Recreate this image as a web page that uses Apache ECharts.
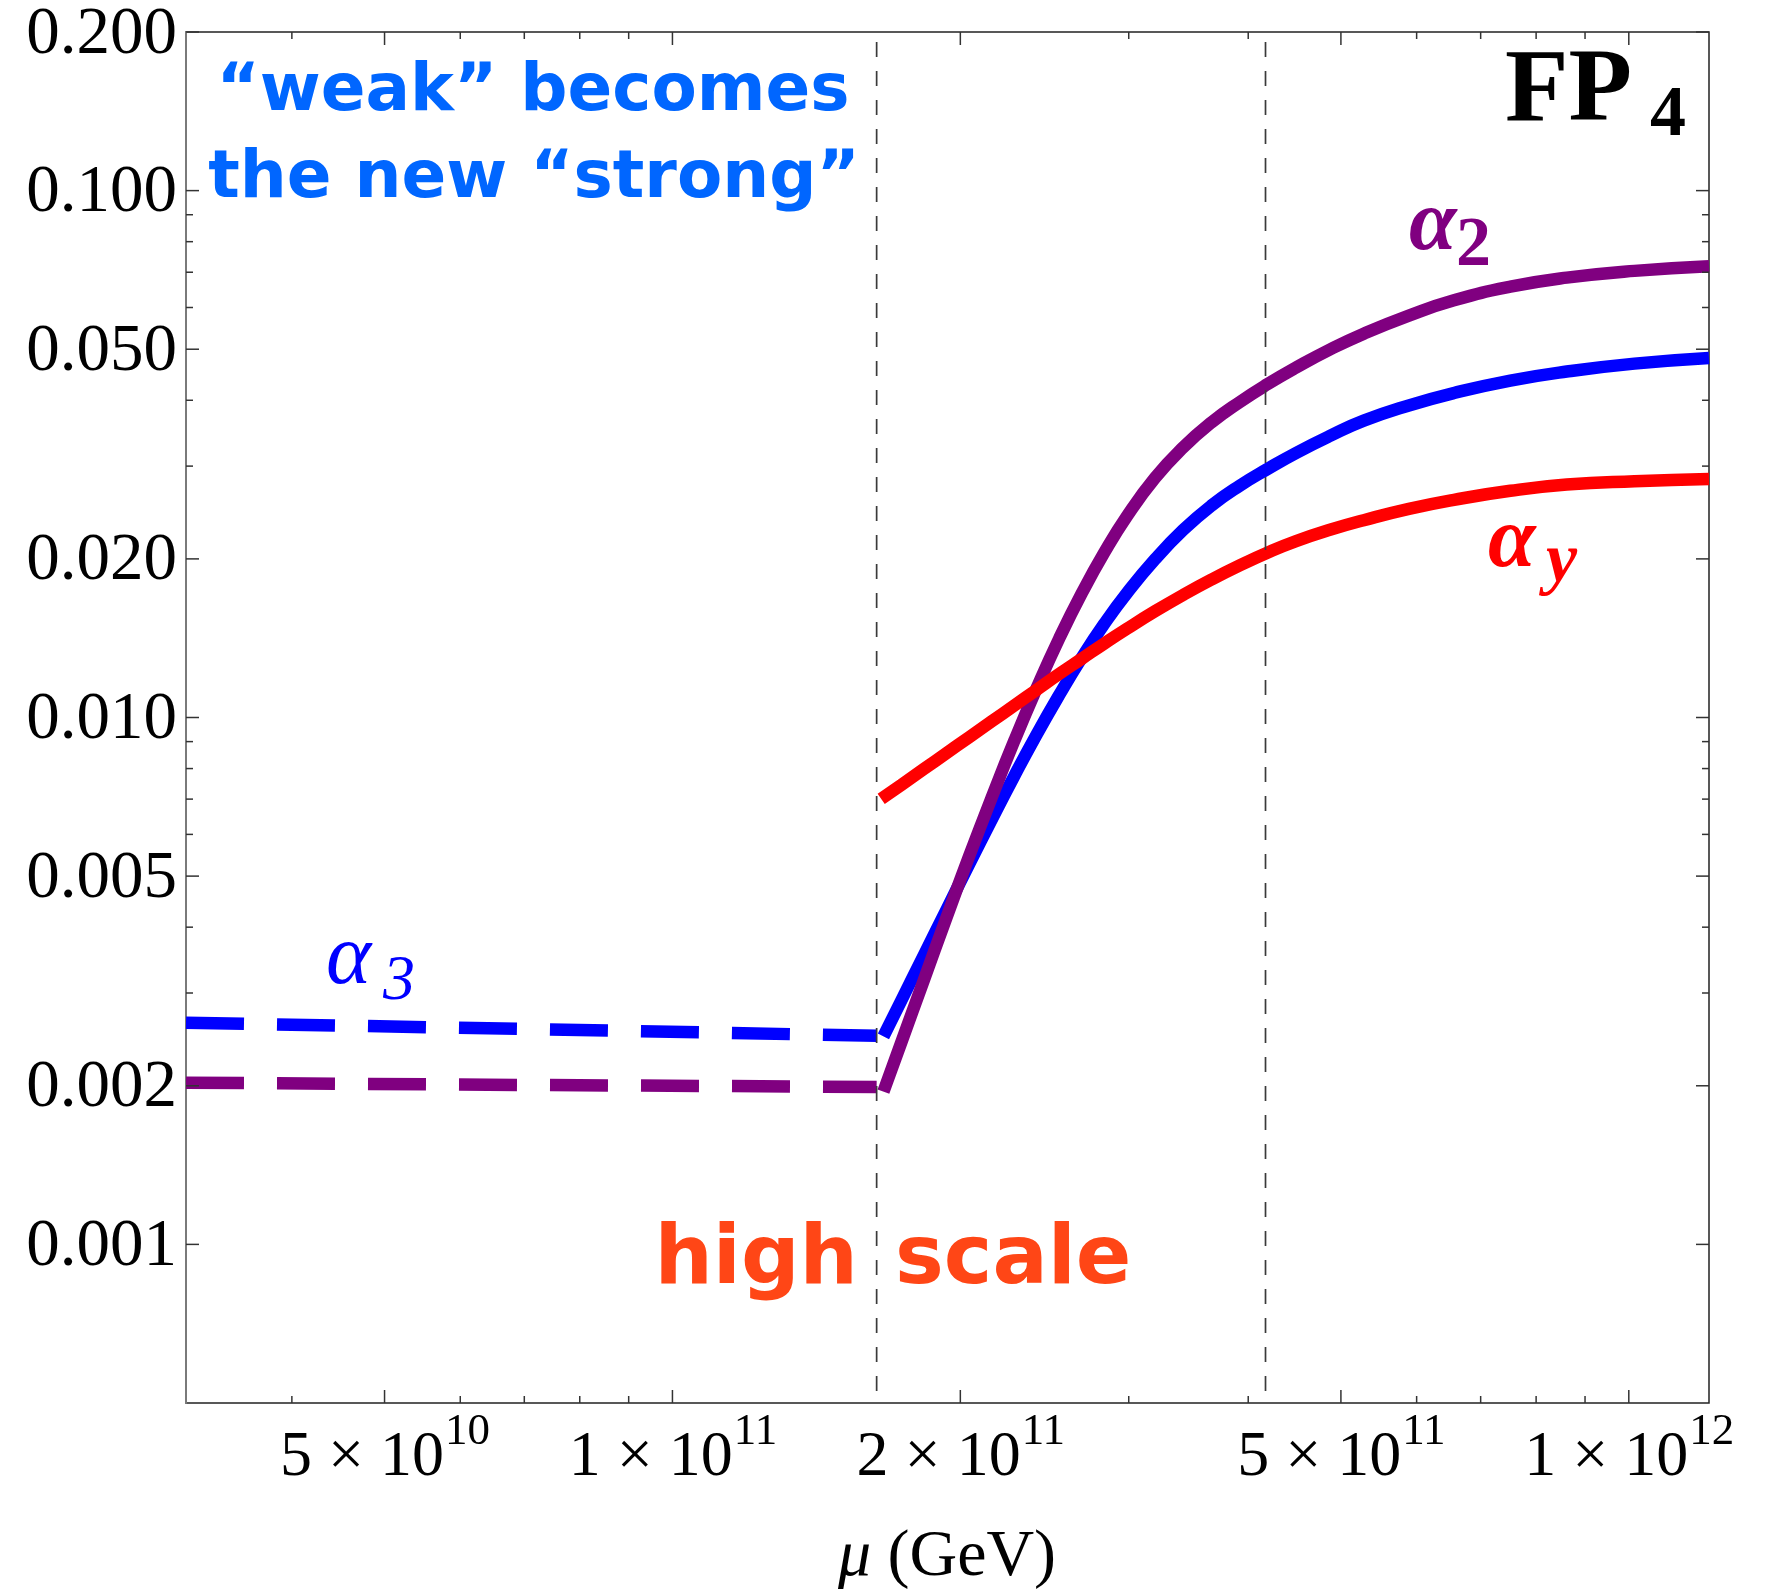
<!DOCTYPE html>
<html>
<head>
<meta charset="utf-8">
<script src="https://cdn.jsdelivr.net/npm/echarts@6/dist/echarts.min.js"></script>
<style>
  html, body { margin: 0; padding: 0; background: #ffffff; }
  #chart { width: 1768px; height: 1592px; }
</style>
</head>
<body>
<div id="chart"></div>
<script>
// Running gauge couplings alpha_i(mu) around the FP4 fixed point

// axis ranges
const muRange = [3.1e10, 1.213e12];
const alphaRange = [0.0005, 0.2];

// tick values and labels
const xMajorTicks = [5e10, 1e11, 2e11, 5e11, 1e12];
const xMajorMantissa = ['5', '1', '2', '5', '1'];
const xMajorExponent = ['10', '11', '11', '11', '12'];
const xMinorTicks = [4e10, 6e10, 7e10, 8e10, 9e10, 3e11, 4e11, 6e11, 7e11, 8e11, 9e11];
const yMajorTicks = [0.001, 0.002, 0.005, 0.01, 0.02, 0.05, 0.1, 0.2];
const yMajorLabels = ['0.001', '0.002', '0.005', '0.010', '0.020', '0.050', '0.100', '0.200'];
const yMinorTicks = [0.003, 0.004, 0.006, 0.007, 0.008, 0.009, 0.03, 0.04, 0.06, 0.07, 0.08, 0.09];

// matching scales (vertical dashed lines)
const thresholdScales = [1.635e11, 4.17e11];

// below the high scale (dashed)
const muLow = [3.1e10, 7.08e10, 1.635e11];
const alpha3Low = [0.002634, 0.002563, 0.002488];
const alpha2Low = [0.002027, 0.002007, 0.001990];

// above the high scale (solid)
const muHigh = [1.662e11, 1.7356e11, 1.8323e11, 1.9344e11, 2.0422e11, 2.1562e11, 2.2765e11, 2.4035e11,
                2.5378e11, 2.6795e11, 2.8290e11, 2.9868e11, 3.1968e11, 3.4213e11, 3.6617e11, 3.9189e11,
                4.1941e11, 4.4887e11, 4.8697e11, 5.2830e11, 5.8890e11, 6.5645e11, 7.5190e11, 8.6128e11,
                1.0137e12, 1.213e12];
const alpha3 = [0.0024822, 0.0029076, 0.003543, 0.0043171, 0.0052605, 0.0063945, 0.007734, 0.0092859,
                0.011038, 0.012993, 0.015069, 0.017221, 0.019972, 0.02271, 0.025256, 0.027538,
                0.029655, 0.03178, 0.034224, 0.036585, 0.039109, 0.041293, 0.0436, 0.045358,
                0.046954, 0.048128];
const alpha2 = [0.0019489, 0.0024217, 0.003178, 0.0041704, 0.0054457, 0.0070411, 0.0090144, 0.01137,
                0.014132, 0.01722, 0.020573, 0.024097, 0.028506, 0.032574, 0.036315, 0.039693,
                0.042958, 0.046149, 0.049946, 0.053523, 0.057926, 0.061923, 0.065705, 0.068354,
                0.070411, 0.071817];

const muAlphaY = [1.653e11, 1.7356e11, 1.8323e11, 1.9344e11, 2.0422e11, 2.1562e11, 2.2765e11, 2.4035e11,
                  2.5378e11, 2.6795e11, 2.8290e11, 2.9868e11, 3.1968e11, 3.4213e11, 3.6617e11, 3.9189e11,
                  4.1941e11, 4.4887e11, 4.8697e11, 5.2830e11, 5.8890e11, 6.5645e11, 7.5190e11, 8.6128e11,
                  1.0137e12, 1.213e12];
const alphaY = [0.0070064, 0.0074528, 0.0079866, 0.0085586, 0.0091716, 0.0098285, 0.010532, 0.011287,
                0.012096, 0.012929, 0.013822, 0.014738, 0.015912, 0.017093, 0.018273, 0.019437,
                0.020573, 0.021616, 0.02271, 0.023684, 0.024884, 0.025888, 0.026931, 0.027673,
                0.028086, 0.028366];

const zip = (xs, ys) => xs.map((x, i) => [x, ys[i]]);

const SERIF = '"Liberation Serif", "Times New Roman", serif';
const SANS = '"DejaVu Sans", sans-serif';
const TICK_COLOR = '#333333';
const MAJOR_LEN = 13;
const MINOR_LEN = 7;

const measureCtx = document.createElement('canvas').getContext('2d');
function textWidth(str, font) {
  measureCtx.font = font;
  return measureCtx.measureText(str).width;
}

// frame ticks on all four sides
function tickSeries(values, dir, len) {
  return {
    type: 'custom',
    silent: true,
    clip: false,
    z: 6,
    data: values.map(v => dir === 'x' ? [v, alphaRange[0]] : [muRange[0], v]),
    encode: { x: 0, y: 1 },
    renderItem: (params, api) => {
      const style = { stroke: TICK_COLOR, lineWidth: 1.5 };
      if (dir === 'x') {
        const v = api.value(0);
        const a = api.coord([v, alphaRange[0]]);
        const b = api.coord([v, alphaRange[1]]);
        return { type: 'group', children: [
          { type: 'line', shape: { x1: a[0], y1: a[1], x2: a[0], y2: a[1] - len }, style },
          { type: 'line', shape: { x1: b[0], y1: b[1], x2: b[0], y2: b[1] + len }, style }
        ] };
      }
      const v = api.value(1);
      const a = api.coord([muRange[0], v]);
      const b = api.coord([muRange[1], v]);
      return { type: 'group', children: [
        { type: 'line', shape: { x1: a[0], y1: a[1], x2: a[0] + len, y2: a[1] }, style },
        { type: 'line', shape: { x1: b[0], y1: b[1], x2: b[0] - len, y2: b[1] }, style }
      ] };
    }
  };
}

// x tick labels of the form m × 10^e
const xLabelSeries = {
  type: 'custom',
  silent: true,
  clip: false,
  z: 6,
  data: xMajorTicks.map(v => [v, alphaRange[0]]),
  encode: { x: 0, y: 1 },
  renderItem: (params, api) => {
    const i = params.dataIndex;
    const p = api.coord([api.value(0), alphaRange[0]]);
    const mainText = xMajorMantissa[i] + ' \u00d7 10';
    const expText = xMajorExponent[i];
    const mainFont = '64px ' + SERIF;
    const expFont = '45px ' + SERIF;
    const wMain = textWidth(mainText, mainFont);
    const wExp = textWidth(expText, expFont);
    const x0 = p[0] - (wMain + wExp) / 2;
    return { type: 'group', children: [
      { type: 'text', x: x0, y: p[1] + 55,
        style: { text: mainText, fill: '#000', fontSize: 64, fontFamily: SERIF, align: 'left', verticalAlign: 'middle' } },
      { type: 'text', x: x0 + wMain + 1, y: p[1] + 29,
        style: { text: expText, fill: '#000', fontSize: 45, fontFamily: SERIF, align: 'left', verticalAlign: 'middle' } }
    ] };
  }
};

// y tick labels
const yLabelSeries = {
  type: 'custom',
  silent: true,
  clip: false,
  z: 6,
  data: yMajorTicks.map(v => [muRange[0], v]),
  encode: { x: 0, y: 1 },
  renderItem: (params, api) => {
    const p = api.coord([muRange[0], api.value(1)]);
    return { type: 'text', x: p[0] - 9, y: p[1] + 3,
      style: { text: yMajorLabels[params.dataIndex], fill: '#000', fontSize: 67, fontFamily: SERIF,
               align: 'right', verticalAlign: 'middle' } };
  }
};

// vertical dashed lines at the matching scales
const thresholdSeries = {
  type: 'custom',
  silent: true,
  z: 8,
  data: thresholdScales.map(v => [v, alphaRange[0]]),
  encode: { x: 0, y: 1 },
  renderItem: (params, api) => {
    const v = api.value(0);
    const a = api.coord([v, alphaRange[1]]);
    const b = api.coord([v, alphaRange[0]]);
    return { type: 'line', shape: { x1: a[0], y1: a[1] + 10, x2: b[0], y2: b[1] },
      style: { stroke: '#3a3a3a', lineWidth: 1.7, lineDash: [15, 14] } };
  }
};

function curve(name, data, color, dashed, z) {
  return {
    name, type: 'line', data, z,
    showSymbol: false, symbol: 'none', silent: true, clip: true,
    smooth: dashed ? false : 0.5,
    lineStyle: { color, width: 12.5, type: dashed ? [58, 33] : 'solid', cap: 'butt', join: 'round' }
  };
}

const chart = echarts.init(document.getElementById('chart'), null, { renderer: 'canvas' });

chart.setOption({
  animation: false,
  backgroundColor: '#ffffff',
  grid: { left: 186, right: 59, top: 32, bottom: 189, show: true, borderColor: '#222', borderWidth: 1.5, backgroundColor: 'transparent' },
  xAxis: {
    type: 'log', logBase: 10, min: muRange[0], max: muRange[1],
    axisLine: { show: false }, axisTick: { show: false }, axisLabel: { show: false }, splitLine: { show: false }
  },
  yAxis: {
    type: 'log', logBase: 10, min: alphaRange[0], max: alphaRange[1],
    axisLine: { show: true, lineStyle: { color: '#7a7a7a', width: 2 } },
    axisTick: { show: false }, axisLabel: { show: false }, splitLine: { show: false }
  },
  series: [
    curve('alpha3 low', zip(muLow, alpha3Low), '#0000ff', true, 3),
    curve('alpha2 low', zip(muLow, alpha2Low), '#800080', true, 3),
    curve('alpha3', zip(muHigh, alpha3), '#0000ff', false, 3),
    curve('alpha2', zip(muHigh, alpha2), '#800080', false, 4),
    curve('alphaY', zip(muAlphaY, alphaY), '#ff0000', false, 5),
    thresholdSeries,
    tickSeries(xMajorTicks, 'x', MAJOR_LEN),
    tickSeries(xMinorTicks, 'x', MINOR_LEN),
    tickSeries(yMajorTicks, 'y', MAJOR_LEN),
    tickSeries(yMinorTicks, 'y', MINOR_LEN),
    xLabelSeries,
    yLabelSeries
  ],
  graphic: [
    // region captions
    { type: 'text', x: 533, y: 93, z: 10,
      style: { text: '\u201cweak\u201d becomes', fill: '#0066ff', fontSize: 66, fontWeight: 'bold', fontFamily: SANS, align: 'center', verticalAlign: 'middle' } },
    { type: 'text', x: 534, y: 180, z: 10,
      style: { text: 'the new \u201cstrong\u201d', fill: '#0066ff', fontSize: 66, fontWeight: 'bold', fontFamily: SANS, align: 'center', verticalAlign: 'middle' } },
    { type: 'text', x: 858, y: 1262, z: 10,
      style: { text: 'high', fill: '#ff4616', fontSize: 82, fontWeight: 'bold', fontFamily: SANS, align: 'right', verticalAlign: 'middle' } },
    { type: 'text', x: 895, y: 1262, z: 10,
      style: { text: 'scale', fill: '#ff4616', fontSize: 82, fontWeight: 'bold', fontFamily: SANS, align: 'left', verticalAlign: 'middle' } },
    // fixed point name
    { type: 'text', x: 1505, y: 93, z: 10,
      style: { text: 'FP', fill: '#000', fontSize: 104, fontWeight: 'bold', fontFamily: SERIF, align: 'left', verticalAlign: 'middle' } },
    { type: 'text', x: 1650, y: 116, z: 10,
      style: { text: '4', fill: '#000', fontSize: 72, fontWeight: 'bold', fontFamily: SERIF, align: 'left', verticalAlign: 'middle' } },
    // curve names
    { type: 'text', x: 1409, y: 227, z: 10,
      style: { text: '\u03b1', fill: '#800080', fontSize: 86, fontWeight: 'bold', fontStyle: 'italic', fontFamily: SERIF, align: 'left', verticalAlign: 'middle' } },
    { type: 'text', x: 1456, y: 247, z: 10,
      style: { text: '2', fill: '#800080', fontSize: 70, fontWeight: 'bold', fontFamily: SERIF, align: 'left', verticalAlign: 'middle' } },
    { type: 'text', x: 1488, y: 544, z: 10,
      style: { text: '\u03b1', fill: '#ff0000', fontSize: 86, fontWeight: 'bold', fontStyle: 'italic', fontFamily: SERIF, align: 'left', verticalAlign: 'middle' } },
    { type: 'text', x: 1546, y: 563, z: 10,
      style: { text: 'y', fill: '#ff0000', fontSize: 70, fontWeight: 'bold', fontStyle: 'italic', fontFamily: SERIF, align: 'left', verticalAlign: 'middle' } },
    { type: 'text', x: 326, y: 960, z: 10,
      style: { text: '\u03b1', fill: '#0000ff', fontSize: 86, fontStyle: 'italic', fontFamily: SERIF, align: 'left', verticalAlign: 'middle' } },
    { type: 'text', x: 383, y: 982, z: 10,
      style: { text: '3', fill: '#0000ff', fontSize: 64, fontStyle: 'italic', fontFamily: SERIF, align: 'left', verticalAlign: 'middle' } },
    // axis title
    { type: 'text', x: 947, y: 1558, z: 10,
      style: { text: '{i|\u03bc} (GeV)', fill: '#000', fontSize: 66, fontFamily: SERIF, align: 'center', verticalAlign: 'middle',
               rich: { i: { fontSize: 66, fontStyle: 'italic', fontFamily: SERIF, fill: '#000' } } } }
  ]
});
</script>
</body>
</html>
